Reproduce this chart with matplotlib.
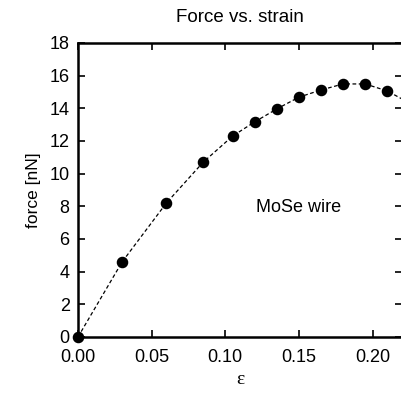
import numpy as np
import matplotlib
matplotlib.use("Agg")
import matplotlib.pyplot as plt

# strain / force points
strain = [0.0, 0.03, 0.06, 0.085, 0.105, 0.12, 0.135, 0.15, 0.165, 0.18, 0.195, 0.21]
force = [0.0, 4.6, 8.2, 10.7, 12.3, 13.17, 13.96, 14.68, 15.12, 15.49, 15.49, 15.06]
# dashed fit curve runs past the last point to the frame edge
fit_strain = strain + [0.22]
fit_force = force + [14.57]

xticks = [0.00, 0.05, 0.10, 0.15, 0.20]
yticks = [0, 2, 4, 6, 8, 10, 12, 14, 16, 18]

plt.rcParams['font.family'] = ['Liberation Sans', 'DejaVu Sans']

fig = plt.figure(figsize=(4.01, 3.94), dpi=100)
ax = fig.add_axes([0.1945, 0.1447, 0.808, 0.7463])

ax.plot(fit_strain, fit_force, color='black', lw=0.9, ls=(0, (3, 2)))
ax.plot(strain, force, 'o', color='black', ms=7.3, clip_on=False)

ax.set_xlim(0, 0.22)
ax.set_ylim(0, 18)
ax.set_xticks(xticks)
ax.set_xticklabels(["%.2f" % v for v in xticks])
ax.set_yticks(yticks)
ax.tick_params(direction='in', length=5, width=1.2, top=True, right=True,
               labelsize=13)
ax.tick_params(axis='x', pad=9)
ax.tick_params(axis='y', pad=6)
for s in ax.spines.values():
    s.set_linewidth(1.8)

ax.text(0.15, 7.95, "MoSe wire", fontsize=13, ha='center', va='center')
ax.set_title("Force vs. strain", fontsize=13.5, pad=15)
ax.set_xlabel("ε", fontsize=14, family=['Liberation Serif', 'DejaVu Serif'], labelpad=3)
ax.set_ylabel("force [nN]", fontsize=12.5, labelpad=6)

fig.savefig("out.png", dpi=100)
